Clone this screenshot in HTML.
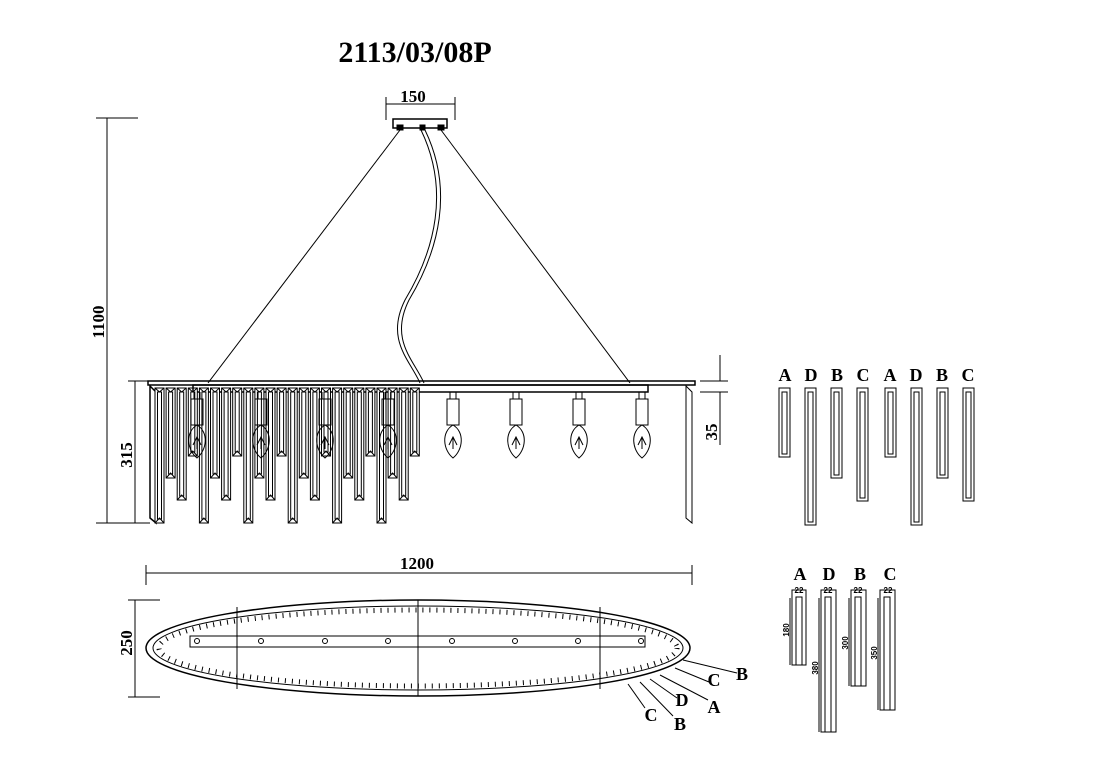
<!DOCTYPE html>
<html><head><meta charset="utf-8"><style>html,body{margin:0;padding:0;background:#fff}svg{display:block}</style></head>
<body>
<svg width="1110" height="783" viewBox="0 0 1110 783" xmlns="http://www.w3.org/2000/svg" font-family="Liberation Serif, serif" font-weight="bold">
<rect width="1110" height="783" fill="#fff"/>
<text x="415" y="62" font-size="30" text-anchor="middle">2113/03/08P</text>
<g stroke="#000" fill="none" stroke-width="1">
<line x1="386" y1="104" x2="455" y2="104"/><line x1="386" y1="97" x2="386" y2="120"/><line x1="455" y1="97" x2="455" y2="120"/>
<rect x="393" y="119" width="54" height="9" stroke-width="1.5"/>
<rect x="397" y="125" width="6" height="5" fill="#000"/><rect x="420" y="125" width="5" height="5" fill="#000"/><rect x="438" y="125" width="6" height="5" fill="#000"/>
<line x1="400" y1="130" x2="208" y2="383"/>
<line x1="441" y1="130" x2="630" y2="383"/>
<path d="M421 130 C 450 190, 435 250, 405 300 C 385 340, 410 360, 420 383"/>
<path d="M425 130 C 454 190, 439 250, 409 300 C 389 340, 414 360, 424 383"/>
<line x1="107" y1="118" x2="107" y2="523"/><line x1="96" y1="118" x2="138" y2="118"/><line x1="96" y1="523" x2="150" y2="523"/>
<line x1="135" y1="381" x2="135" y2="523"/><line x1="128" y1="381" x2="148" y2="381"/>
<rect x="148" y="381" width="547" height="4" stroke-width="1.5"/>
<rect x="193" y="385" width="455" height="7" stroke-width="1.5"/>
<line x1="720" y1="355" x2="720" y2="381"/><line x1="720" y1="392" x2="720" y2="445"/>
<line x1="700" y1="381" x2="728" y2="381"/><line x1="700" y1="392" x2="728" y2="392"/>
<path d="M686 386 L692 392 L692 523 L686 518 Z"/>
<path d="M150 386 L156 392 L156 523 L150 518 Z" stroke-width="1.5"/>
</g>
<g stroke="#000" fill="#fff" stroke-width="1" id="crys"></g>
<g stroke="#000" fill="none" stroke-width="1" id="bulbs"></g>
<g font-size="17">
<text x="413" y="102" text-anchor="middle">150</text>
<text transform="translate(104,322) rotate(-90)" text-anchor="middle">1100</text>
<text transform="translate(132,455) rotate(-90)" text-anchor="middle">315</text>
<text transform="translate(717,432) rotate(-90)" text-anchor="middle">35</text>
<text x="417" y="569" text-anchor="middle">1200</text>
<text transform="translate(132,643) rotate(-90)" text-anchor="middle">250</text>
</g>
<g font-size="18" text-anchor="middle">
<text x="785" y="381">A</text><text x="811" y="381">D</text><text x="837" y="381">B</text><text x="863" y="381">C</text>
<text x="890" y="381">A</text><text x="916" y="381">D</text><text x="942" y="381">B</text><text x="968" y="381">C</text>
<text x="800" y="580">A</text><text x="829" y="580">D</text><text x="860" y="580">B</text><text x="890" y="580">C</text>
<text x="742" y="680">B</text><text x="714" y="686">C</text><text x="714" y="713">A</text><text x="682" y="706">D</text><text x="680" y="730">B</text><text x="651" y="721">C</text>
</g>
<g stroke="#000" fill="none" stroke-width="1">
<path d="M779 388h11v69h-11z M782 392h5v62h-5z"/>
<path d="M805 388h11v137h-11z M808 392h5v130h-5z"/>
<path d="M831 388h11v90h-11z M834 392h5v83h-5z"/>
<path d="M857 388h11v113h-11z M860 392h5v106h-5z"/>
<path d="M885 388h11v69h-11z M888 392h5v62h-5z"/>
<path d="M911 388h11v137h-11z M914 392h5v130h-5z"/>
<path d="M937 388h11v90h-11z M940 392h5v83h-5z"/>
<path d="M963 388h11v113h-11z M966 392h5v106h-5z"/>
<line x1="146" y1="573" x2="692" y2="573"/><line x1="146" y1="565" x2="146" y2="585"/><line x1="692" y1="565" x2="692" y2="585"/>
<line x1="135" y1="600" x2="135" y2="697"/><line x1="128" y1="600" x2="160" y2="600"/><line x1="128" y1="697" x2="160" y2="697"/>
<ellipse cx="418" cy="648" rx="272" ry="48" stroke-width="1.5"/>
<ellipse cx="418" cy="648" rx="265" ry="42"/>
<ellipse cx="418" cy="648" rx="259" ry="38" stroke-dasharray="1 6" stroke-width="5"/>
<rect x="190" y="636" width="455" height="11"/>
<line x1="237" y1="607" x2="237" y2="689"/><line x1="418" y1="600" x2="418" y2="696"/><line x1="600" y1="607" x2="600" y2="689"/>
<circle cx="197" cy="641" r="2.5"/><circle cx="261" cy="641" r="2.5"/><circle cx="325" cy="641" r="2.5"/><circle cx="388" cy="641" r="2.5"/>
<circle cx="452" cy="641" r="2.5"/><circle cx="515" cy="641" r="2.5"/><circle cx="578" cy="641" r="2.5"/><circle cx="641" cy="641" r="2.5"/>
<line x1="683" y1="660" x2="737" y2="673"/><line x1="675" y1="668" x2="709" y2="682"/>
<line x1="660" y1="675" x2="708" y2="700"/><line x1="650" y1="679" x2="677" y2="698"/>
<line x1="640" y1="682" x2="673" y2="716"/><line x1="628" y1="684" x2="645" y2="708"/>
<path d="M792 590h14v75h-14z M796 597h6v68h-6z"/>
<path d="M821 590h15v142h-15z M825 597h6v135h-6z"/>
<path d="M851 590h15v96h-15z M855 597h6v89h-6z"/>
<path d="M880 590h15v120h-15z M884 597h6v113h-6z"/>
<line x1="790" y1="598" x2="790" y2="665"/><line x1="819" y1="598" x2="819" y2="732"/><line x1="849" y1="598" x2="849" y2="686"/><line x1="878" y1="598" x2="878" y2="710"/>
</g>
<g font-size="8" text-anchor="middle" font-family="Liberation Sans, sans-serif">
<text x="799" y="593">22</text><text x="828" y="593">22</text><text x="858" y="593">22</text><text x="888" y="593">22</text>
<text transform="translate(789,630) rotate(-90)">180</text>
<text transform="translate(818,668) rotate(-90)">380</text>
<text transform="translate(848,643) rotate(-90)">300</text>
<text transform="translate(877,653) rotate(-90)">350</text>
</g>
<script>
var ns="http://www.w3.org/2000/svg";
var g=document.getElementById("crys");
var pat=[523,478,500,456];
for(var i=0;i<24;i++){var x=155+i*11.1;var b=pat[i%4];
var p=document.createElementNS(ns,"path");
p.setAttribute("d","M"+x+" 388h9v"+(b-388)+"h-9z M"+(x+2.5)+" 392h4v"+(b-396)+"h-4z M"+x+" 388l4.5 4l4.5-4 M"+x+" "+b+"l4.5-5l4.5 5");
g.appendChild(p);}
var bg=document.getElementById("bulbs");
[197,261,325,388,453,516,579,642].forEach(function(x){
var s=document.createElementNS(ns,"path");
s.setAttribute("d","M"+(x-6)+" 399h12v26h-12z M"+(x-3)+" 392v7 M"+(x+3)+" 392v7 M"+x+" 425 C"+(x+12)+" 432,"+(x+10)+" 450,"+x+" 458 C"+(x-10)+" 450,"+(x-12)+" 432,"+x+" 425 M"+(x-4)+" 445l4-8l4 8 M"+x+" 437v12");
bg.appendChild(s);});
</script>
</svg>
</body></html>
